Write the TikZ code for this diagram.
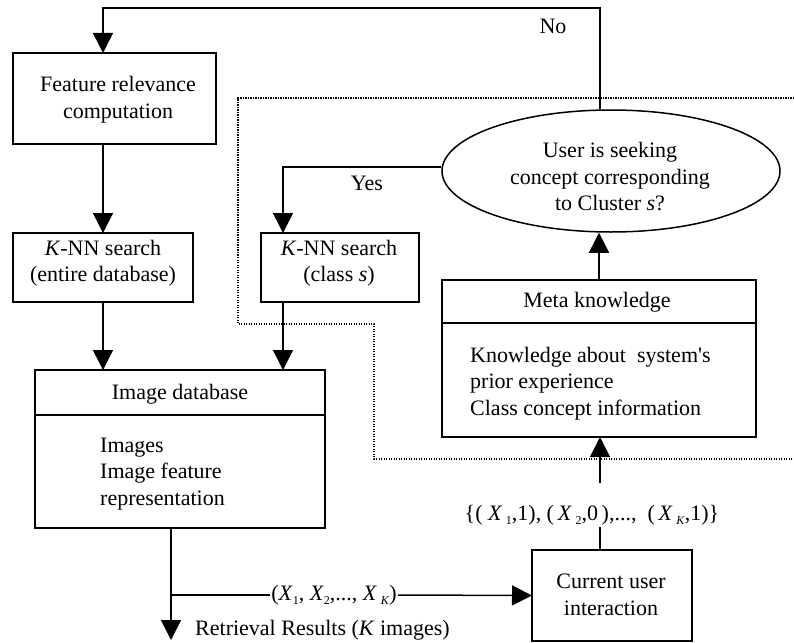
\documentclass[tikz,border=0pt]{standalone}
\usepackage{fontspec}
\setmainfont{Liberation Serif}
\usetikzlibrary{shapes.geometric,arrows.meta}
\newcommand{\sbx}[1]{\raisebox{-0.4ex}{\fontsize{12}{12}\selectfont #1}}
\begin{document}
\begin{tikzpicture}[x=1pt,y=-1pt,
 box/.style={draw,line width=1.5pt,inner sep=0pt,outer sep=0pt},
 txt/.style={inner sep=0pt,font=\fontsize{22}{26.5}\selectfont,align=center},
 conn/.style={line width=1.5pt},
 arr/.style={line width=1.5pt,-{Triangle[width=20pt,length=20pt]}},
 dots/.style={line width=1.3pt,dash pattern=on 1.2pt off 1.3pt}]
\useasboundingbox (0,0) rectangle (794,642);

% dotted region
\draw[dots] (794,98) -- (238,98) -- (238,324) -- (374,324) -- (374,459) -- (794,459);

% boxes
\node[box,minimum width=203pt,minimum height=91pt] (feat) at (114.5,98.5) {};
\node[txt] (featT) at (118,99.5) {Feature relevance\\computation};

\node[box,minimum width=180pt,minimum height=69pt] (knnA) at (103,267.5) {};
\node[txt] (knnAT) at (103,263) {\textit{K}-NN search\\(entire database)};

\node[box,minimum width=158pt,minimum height=69pt] (knnB) at (340,267.5) {};
\node[txt] (knnBT) at (339,263) {\textit{K}-NN search\\(class \textit{s})};

\node[draw,ellipse,line width=1.5pt,minimum width=338pt,minimum height=122pt,inner sep=0pt] (ell) at (611,171) {};
\node[txt] (ellT) at (610,177) {User is seeking\\concept corresponding\\to Cluster \textit{s}?};

\node[box,minimum width=290pt,minimum height=158pt] (db) at (180,449) {};
\draw[conn] (db.west |- 0,415) coordinate (dbL) -- (db.east |- dbL);
\node[txt] (dbT) at (180,394) {Image database};
\node[txt,anchor=west,align=left] (dbI) at (100,474) {Images\\Image feature\\representation};

\node[box,minimum width=314pt,minimum height=157pt] (meta) at (599,358.5) {};
\draw[conn] (meta.west |- 0,323) coordinate (mL) -- (meta.east |- mL);
\node[txt] (metaT) at (597,302) {Meta knowledge};
\node[txt,anchor=west,align=left] (metaI) at (470,383.5) {Knowledge about\ \ system\textquotesingle s\\prior experience\\Class concept information};

\node[box,minimum width=160pt,minimum height=91pt] (cur) at (612,595.5) {};
\node[txt] (curT) at (611,595) {Current user\\interaction};

% labels
\node[txt] (no) at (553,26) {No};
\node[txt] (yes) at (367,183) {Yes};
\node[txt] (lab1) at (592,515) {\{(\ \textit{X}\,\sbx{1},1), (\,\textit{X}\,\sbx{2},0\,),...,\ \ (\,\textit{X}\,\sbx{\textit{K}},1)\}};
\node[txt,inner xsep=1pt] (lab2) at (334,595) {(\textit{X}\sbx{1}, \textit{X}\sbx{2},..., \textit{X}\,\sbx{\textit{K}})};
\node[txt,anchor=west] (ret) at (195,630) {Retrieval Results (\textit{K} images)};

% connectors
\coordinate (topL) at (103,8);
\draw[arr] ([xshift=-11pt]ell.north) |- (topL) -- (topL |- feat.north);
\draw[arr] (feat.south -| knnA.north) -- (knnA.north);
\draw[arr] ([yshift=4pt]ell.west) -| ([xshift=-57pt]knnB.north);
\draw[arr] (knnA.south) -- (knnA.south |- db.north);
\draw[arr] ([xshift=-57pt]knnB.south) -- ([xshift=-57pt]knnB.south |- db.north);
\draw[arr] (meta.north) -- (meta.north |- ell.south);
\coordinate (c1) at (600,483);
\coordinate (c2) at (600,527);
\draw[arr] (c1) -- (c1 |- meta.south);
\draw[conn] (c2) -- (c2 |- cur.north);
\coordinate (bend) at (171,595);
\coordinate (rend) at (171,640);
\draw[arr] ([xshift=-9pt]db.south) -- (rend);
\draw[conn] (bend) -- (lab2.west);
\draw[arr] (lab2.east) -- (cur.west);
\end{tikzpicture}
\end{document}
